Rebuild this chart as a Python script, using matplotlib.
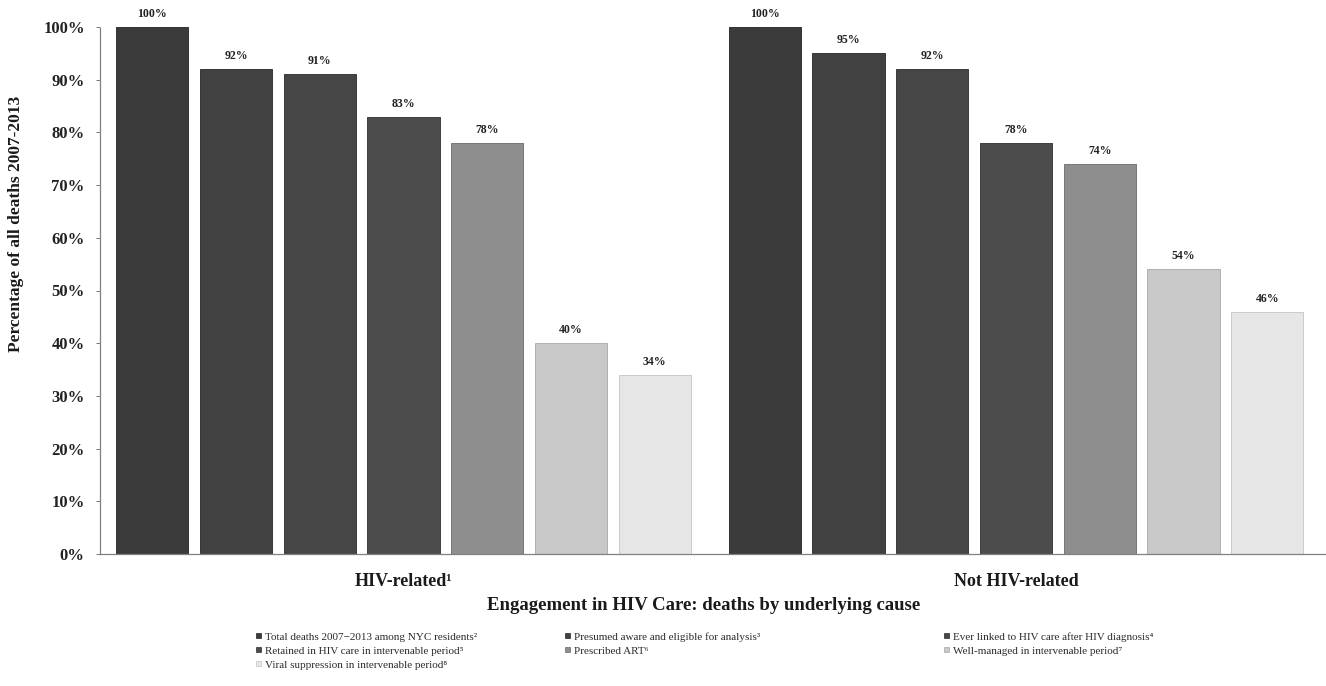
import matplotlib
matplotlib.use("Agg")
import matplotlib.pyplot as plt
from matplotlib.patches import Rectangle
import numpy as np

plt.rcParams['font.family'] = ['Liberation Serif', 'DejaVu Serif']

# ---- data -------------------------------------------------------------
categories = ["HIV-related\u00b9", "Not HIV-related"]
series_names = [
    "Total deaths 2007\u22122013 among NYC residents\u00b2",
    "Presumed aware and eligible for analysis\u00b3",
    "Ever linked to HIV care after HIV diagnosis\u2074",
    "Retained in HIV care in intervenable period\u2075",
    "Prescribed ART\u2076",
    "Well-managed in intervenable period\u2077",
    "Viral suppression in intervenable period\u2078",
]
hiv_related = [100, 92, 91, 83, 78, 40, 34]
not_hiv_related = [100, 95, 92, 78, 74, 54, 46]
yticks = [0, 10, 20, 30, 40, 50, 60, 70, 80, 90, 100]

# ---- styling ----------------------------------------------------------
bar_colors = ["#3b3b3b", "#414141", "#464646", "#4c4c4c",
              "#8e8e8e", "#c8c8c8", "#e6e6e6"]
edge_colors = ["#222222", "#262626", "#2a2a2a", "#2e2e2e",
               "#6a6a6a", "#a8a8a8", "#c4c4c4"]

W, H = 1326, 686
fig = plt.figure(figsize=(W / 100, H / 100), dpi=100)
fig.patch.set_facecolor("white")

# axes box in pixel terms: y axis at x=100, 0% at y=554, 100% at y=27
ax = fig.add_axes([100 / W, (H - 554) / H, (W - 100) / W, (554 - 27) / H])
ax.set_facecolor("white")

values = np.array([hiv_related, not_hiv_related])  # shape (2, 7)
n_series = values.shape[1]
x = np.arange(len(categories))
slot = 0.1367
width = 0.118

for i in range(n_series):
    xs = x + (i - (n_series - 1) / 2) * slot
    bars = ax.bar(xs, values[:, i], width=width, color=bar_colors[i],
                  edgecolor=edge_colors[i], linewidth=0.6, zorder=2)
    for rect, v in zip(bars, values[:, i]):
        ax.annotate(f"{v}%", (rect.get_x() + rect.get_width() / 2, v),
                    xytext=(0, 5), textcoords="offset points",
                    ha="center", va="bottom", fontsize=8.5,
                    fontweight="bold", color="#222222", clip_on=False)

ax.set_xlim(-0.4955, 1.506)
ax.set_ylim(0, 100)

ax.set_yticks(yticks)
ax.set_yticklabels([f"{t}%" for t in yticks])
ax.tick_params(axis="y", direction="out", length=3, width=0.7,
               color="#777777", pad=8, labelsize=12, labelcolor="#222222")
for lbl in ax.get_yticklabels():
    lbl.set_fontweight("bold")

ax.set_xticks(x)
ax.set_xticklabels(categories)
ax.tick_params(axis="x", length=0, pad=14, labelsize=13, labelcolor="#1a1a1a")
for lbl in ax.get_xticklabels():
    lbl.set_fontweight("bold")

for side in ("top", "right"):
    ax.spines[side].set_visible(False)
for side in ("left", "bottom"):
    ax.spines[side].set_color("#808080")
    ax.spines[side].set_linewidth(0.9)
    ax.spines[side].set_linestyle((0, (1, 1)))

ax.set_ylabel("Percentage of all deaths 2007-2013", fontsize=12.5,
              fontweight="bold", color="#1a1a1a")
ax.yaxis.set_label_coords(-0.062, (554 - 224) / (554 - 27))

# axis title centred under the plot area
fig.text(704 / W, 1 - 605 / H,
         "Engagement in HIV Care: deaths by underlying cause",
         ha="center", va="center", fontsize=13.5, fontweight="bold",
         color="#1a1a1a")

# legend laid out row-wise in three columns
col_x = [256, 565, 944]
row_y = [637, 651, 665]
sq = 5
for i, name in enumerate(series_names):
    r, c = divmod(i, 3)
    px, py = col_x[c], row_y[r]
    fig.add_artist(Rectangle((px / W, 1 - (py + 1) / H), sq / W, sq / H,
                             transform=fig.transFigure,
                             facecolor=bar_colors[i], edgecolor=edge_colors[i],
                             linewidth=0.5))
    fig.text((px + sq + 4) / W, 1 - py / H, name, ha="left", va="center",
             fontsize=8, color="#2a2a2a")

fig.savefig("out.png", dpi=100, facecolor="white")
